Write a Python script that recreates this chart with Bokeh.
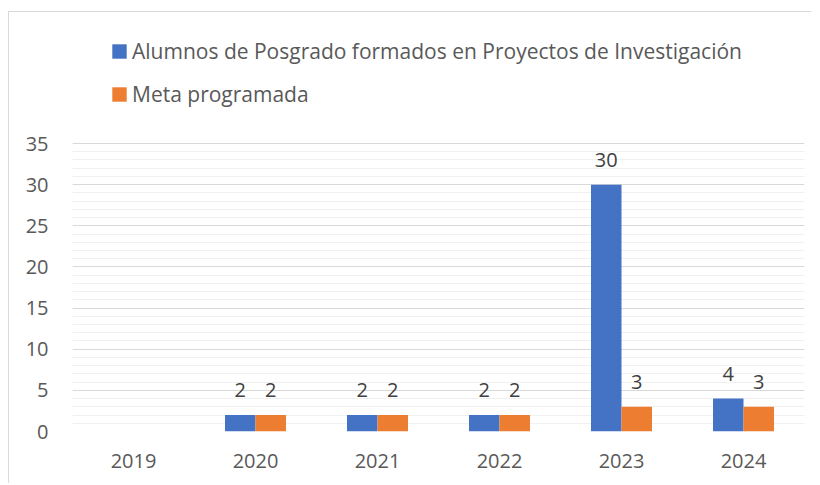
from bokeh.plotting import figure
from bokeh.models import ColumnDataSource, FactorRange, SingleIntervalTicker, Legend, LegendItem
from bokeh.transform import dodge
from bokeh.core.properties import value
from bokeh.embed import file_html
from bokeh.resources import INLINE

years = ["2019", "2020", "2021", "2022", "2023", "2024"]
alumnos = [0, 2, 2, 2, 30, 4]
meta = [0, 2, 2, 2, 3, 3]
series_names = ["Alumnos de Posgrado formados en Proyectos de Investigación", "Meta programada"]
colors = ["#4472C4", "#ED7D31"]
y_max = 35

FONT = "Open Sans"
TXT = "#595959"

src = ColumnDataSource(dict(
    year=years,
    alumnos=alumnos,
    meta=meta,
    lab_a=[str(v) if v else "" for v in alumnos],
    lab_m=[str(v) if v else "" for v in meta],
))

W, H = 803, 472
top_b, bot_b = 10, 53
frame_h = H - top_b - bot_b
px_per_unit = 288 / y_max
y_end = frame_h / px_per_unit

p = figure(x_range=FactorRange(*years), y_range=(0, y_end), width=W, height=H,
           output_backend="svg", toolbar_location=None,
           min_border_left=63, min_border_right=8, min_border_top=top_b, min_border_bottom=bot_b)
p.styles = {"border-left": "1px solid #d9d9d9", "border-top": "1px solid #d9d9d9",
            "margin-left": "8px", "margin-top": "11px"}
p.outline_line_color = None

r1 = p.vbar(x=dodge("year", -0.125, range=p.x_range), top="alumnos", width=0.25, source=src,
            fill_color=colors[0], line_color=None)
r2 = p.vbar(x=dodge("year", 0.125, range=p.x_range), top="meta", width=0.25, source=src,
            fill_color=colors[1], line_color=None)

p.text(x=dodge("year", -0.125, range=p.x_range), y="alumnos", text="lab_a", source=src,
       text_align="center", text_baseline="alphabetic", y_offset=-25,
       text_font=value(FONT), text_font_size="20px", text_color="#404040")
p.text(x=dodge("year", 0.125, range=p.x_range), y="meta", text="lab_m", source=src,
       text_align="center", text_baseline="alphabetic", y_offset=-25,
       text_font=value(FONT), text_font_size="20px", text_color="#404040")

p.yaxis.ticker = SingleIntervalTicker(interval=5, num_minor_ticks=5)
p.yaxis.bounds = (0, y_max)
p.ygrid.ticker = p.yaxis.ticker
p.ygrid.bounds = (0, y_max)
p.ygrid.grid_line_color = "#d9d9d9"
p.ygrid.grid_line_width = 1
p.ygrid.minor_grid_line_color = "#f0f0f0"
p.ygrid.minor_grid_line_width = 1
p.xgrid.grid_line_color = None

for ax in (p.xaxis, p.yaxis):
    ax.axis_line_color = None
    ax.major_tick_line_color = None
    ax.minor_tick_line_color = None
    ax.major_label_text_font = FONT
    ax.major_label_text_font_size = "20px"
    ax.major_label_text_color = TXT
p.yaxis.major_label_standoff = 18
p.xaxis.major_label_standoff = 16

legend = Legend(items=[LegendItem(label=series_names[0], renderers=[r1]),
                       LegendItem(label=series_names[1], renderers=[r2])],
                location=(38, 323), orientation="vertical",
                glyph_width=18, glyph_height=18, label_height=14, spacing=15,
                label_standoff=4, padding=0, margin=0,
                border_line_color=None, background_fill_alpha=0,
                label_text_font=FONT, label_text_font_size="21px", label_text_color=TXT)
p.add_layout(legend, "center")

open("out.html", "w").write(file_html(p, INLINE))
